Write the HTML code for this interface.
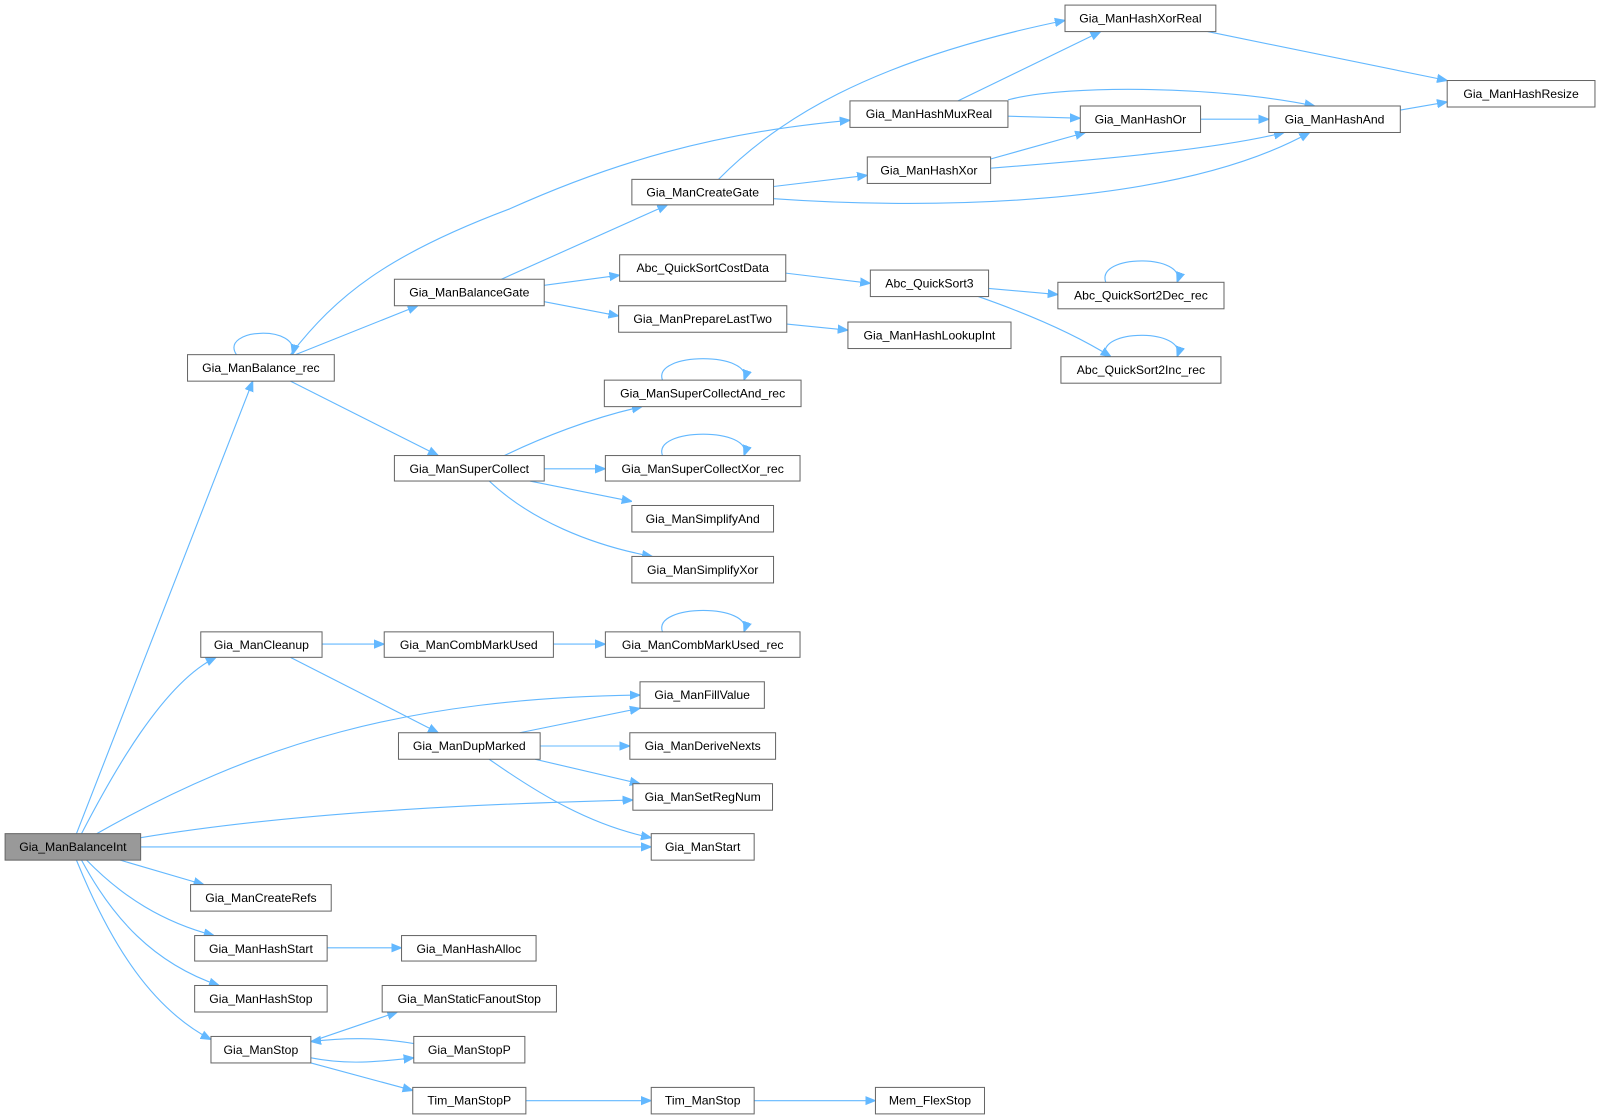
<!DOCTYPE html>
<html><head><meta charset="utf-8"><style>
html,body{margin:0;padding:0;background:#fff}
svg{display:block}
svg text{font-family:"Liberation Sans",Arial,sans-serif;font-size:12px;fill:#000}
.n{fill:#fff;stroke:#666;stroke-width:1}
.e{fill:none;stroke:#63b8ff;stroke-width:1.1}
</style></head><body>
<svg width="1597" height="1119" viewBox="0 0 1567 1098" preserveAspectRatio="none" xmlns="http://www.w3.org/2000/svg">
<defs><marker id="a" viewBox="0 0 10 10" refX="10" refY="5" markerWidth="10" markerHeight="10" markerUnits="userSpaceOnUse" orient="auto"><path d="M0,1 L10,5 L0,9 z" fill="#63b8ff" stroke="#63b8ff"/></marker></defs>
<g class="e" marker-end="url(#a)">
<path d="M75,818 L248,374"/>
<path d="M80,818 C110,760 160,670 212,645"/>
<path d="M95,818 C250,730 400,685 628,682"/>
<path d="M138,822 C300,795 500,788 621,785"/>
<path d="M138,831 L639,831"/>
<path d="M118,844 L200,868"/>
<path d="M85,844 C120,880 160,905 210,918"/>
<path d="M80,844 C110,900 150,945 215,967"/>
<path d="M75,844 C110,930 150,990 207,1020"/>
<path d="M232,348 C215,322 295,318 287,348"/>
<path d="M285,348 C330,290 380,250 500,205 C600,160 700,130 834,118"/>
<path d="M290,348 L410,300"/>
<path d="M285,374 L430,447"/>
<path d="M492,274 L655,201"/>
<path d="M534,280 L608,270"/>
<path d="M534,296 L607,310"/>
<path d="M495,447 C530,430 580,410 630,399"/>
<path d="M534,460 L594,460"/>
<path d="M520,472 L620,492"/>
<path d="M480,472 C520,510 580,535 640,546"/>
<path d="M650,373 C640,345 740,345 730,373"/>
<path d="M650,447 C640,419 740,419 730,447"/>
<path d="M650,620 C640,592 740,592 730,620"/>
<path d="M1085,277 C1075,249 1165,249 1155,277"/>
<path d="M1085,350 C1075,322 1165,322 1155,350"/>
<path d="M316,632 L377,632"/>
<path d="M285,645 L430,719"/>
<path d="M543,632 L594,632"/>
<path d="M510,719 L628,695"/>
<path d="M530,732 L618,732"/>
<path d="M525,745 L628,769"/>
<path d="M480,745 C530,780 580,810 639,822"/>
<path d="M705,176 C760,120 850,60 1045,20"/>
<path d="M759,183 L851,172"/>
<path d="M759,195 C900,205 1150,205 1285,130"/>
<path d="M771,268 L854,278"/>
<path d="M772,318 L832,324"/>
<path d="M940,99 L1080,31"/>
<path d="M989,114 L1060,116"/>
<path d="M989,98 C1050,82 1200,85 1290,104"/>
<path d="M972,156 L1065,130"/>
<path d="M972,165 C1100,155 1200,145 1260,130"/>
<path d="M1178,117 L1245,117"/>
<path d="M1185,31 L1420,79"/>
<path d="M1374,108 L1420,100"/>
<path d="M970,283 L1038,289"/>
<path d="M960,291 C1000,305 1050,325 1090,350"/>
<path d="M305,1022 L390,993"/>
<path d="M305,1038 C340,1045 370,1042 406,1038"/>
<path d="M406,1024 C370,1018 340,1018 305,1022"/>
<path d="M305,1043 L405,1070"/>
<path d="M321,930 L394,930"/>
<path d="M516,1080 L639,1080"/>
<path d="M740,1080 L859,1080"/>
</g>
<g>
<rect x="5" y="818" width="133" height="26" fill="#999" stroke="#666"/><text x="71.5" y="835" text-anchor="middle">Gia_ManBalanceInt</text>
</g>
<g text-anchor="middle">
<rect class="n" x="184" y="348" width="144" height="26"/><text x="256" y="365">Gia_ManBalance_rec</text>
<rect class="n" x="197" y="620" width="119" height="25"/><text x="256.5" y="637">Gia_ManCleanup</text>
<rect class="n" x="187" y="868" width="138" height="26"/><text x="256" y="885">Gia_ManCreateRefs</text>
<rect class="n" x="191" y="918" width="130" height="25"/><text x="256" y="935">Gia_ManHashStart</text>
<rect class="n" x="191" y="967" width="130" height="26"/><text x="256" y="984">Gia_ManHashStop</text>
<rect class="n" x="207" y="1017" width="98" height="26"/><text x="256" y="1034">Gia_ManStop</text>
<rect class="n" x="387" y="274" width="147" height="26"/><text x="460.5" y="291">Gia_ManBalanceGate</text>
<rect class="n" x="387" y="447" width="147" height="25"/><text x="460.5" y="464">Gia_ManSuperCollect</text>
<rect class="n" x="377" y="620" width="166" height="25"/><text x="460" y="637">Gia_ManCombMarkUsed</text>
<rect class="n" x="391" y="719" width="139" height="26"/><text x="460.5" y="736">Gia_ManDupMarked</text>
<rect class="n" x="375" y="967" width="171" height="26"/><text x="460.5" y="984">Gia_ManStaticFanoutStop</text>
<rect class="n" x="406" y="1017" width="109" height="26"/><text x="460.5" y="1034">Gia_ManStopP</text>
<rect class="n" x="405" y="1067" width="111" height="26"/><text x="460.5" y="1084">Tim_ManStopP</text>
<rect class="n" x="394" y="918" width="132" height="25"/><text x="460" y="935">Gia_ManHashAlloc</text>
<rect class="n" x="620" y="176" width="139" height="25"/><text x="689.5" y="193">Gia_ManCreateGate</text>
<rect class="n" x="608" y="250" width="163" height="26"/><text x="689.5" y="267">Abc_QuickSortCostData</text>
<rect class="n" x="607" y="300" width="165" height="26"/><text x="689.5" y="317">Gia_ManPrepareLastTwo</text>
<rect class="n" x="593" y="373" width="193" height="26"/><text x="689.5" y="390">Gia_ManSuperCollectAnd_rec</text>
<rect class="n" x="594" y="447" width="191" height="25"/><text x="689.5" y="464">Gia_ManSuperCollectXor_rec</text>
<rect class="n" x="620" y="496" width="139" height="26"/><text x="689.5" y="513">Gia_ManSimplifyAnd</text>
<rect class="n" x="620" y="546" width="139" height="26"/><text x="689.5" y="563">Gia_ManSimplifyXor</text>
<rect class="n" x="594" y="620" width="191" height="25"/><text x="689.5" y="637">Gia_ManCombMarkUsed_rec</text>
<rect class="n" x="628" y="669" width="122" height="26"/><text x="689" y="686">Gia_ManFillValue</text>
<rect class="n" x="618" y="719" width="143" height="26"/><text x="689.5" y="736">Gia_ManDeriveNexts</text>
<rect class="n" x="621" y="769" width="137" height="26"/><text x="689.5" y="786">Gia_ManSetRegNum</text>
<rect class="n" x="639" y="818" width="101" height="26"/><text x="689.5" y="835">Gia_ManStart</text>
<rect class="n" x="639" y="1067" width="101" height="26"/><text x="689.5" y="1084">Tim_ManStop</text>
<rect class="n" x="834" y="99" width="155" height="26"/><text x="911.5" y="116">Gia_ManHashMuxReal</text>
<rect class="n" x="851" y="154" width="121" height="26"/><text x="911.5" y="171">Gia_ManHashXor</text>
<rect class="n" x="854" y="265" width="116" height="26"/><text x="912" y="282">Abc_QuickSort3</text>
<rect class="n" x="832" y="316" width="160" height="26"/><text x="912" y="333">Gia_ManHashLookupInt</text>
<rect class="n" x="859" y="1067" width="107" height="26"/><text x="912.5" y="1084">Mem_FlexStop</text>
<rect class="n" x="1045" y="5" width="148" height="26"/><text x="1119" y="22">Gia_ManHashXorReal</text>
<rect class="n" x="1060" y="104" width="118" height="26"/><text x="1119" y="121">Gia_ManHashOr</text>
<rect class="n" x="1038" y="277" width="163" height="26"/><text x="1119.5" y="294">Abc_QuickSort2Dec_rec</text>
<rect class="n" x="1041" y="350" width="157" height="26"/><text x="1119.5" y="367">Abc_QuickSort2Inc_rec</text>
<rect class="n" x="1245" y="104" width="129" height="26"/><text x="1309.5" y="121">Gia_ManHashAnd</text>
<rect class="n" x="1420" y="79" width="145" height="26"/><text x="1492.5" y="96">Gia_ManHashResize</text>
</g>
</svg>
</body></html>
